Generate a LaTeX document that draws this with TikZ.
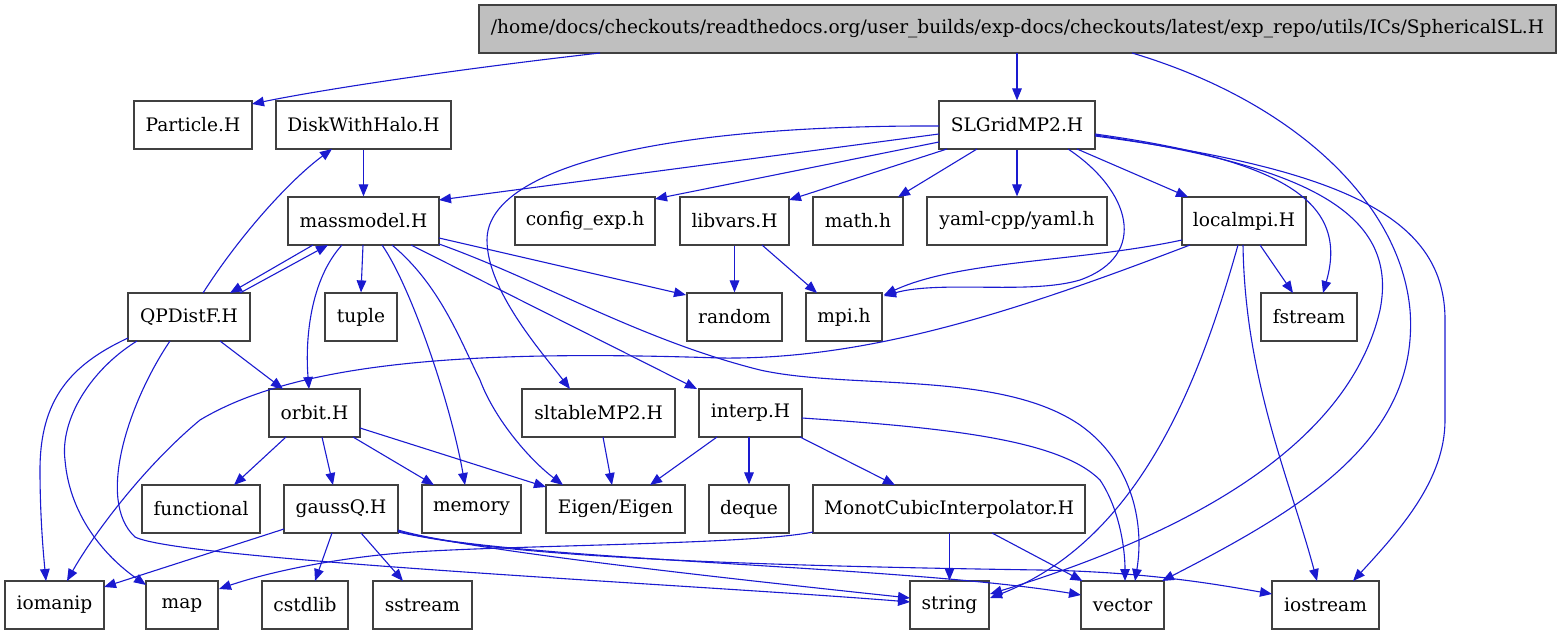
\documentclass[tikz,border=0pt]{standalone}
\usepackage{fontspec}
\setmainfont{DejaVu Serif}
\usetikzlibrary{arrows.meta,calc}
\definecolor{edgeblue}{RGB}{26,26,208}
\definecolor{rootfill}{RGB}{191,191,191}
\begin{document}
\begin{tikzpicture}[x=0.5pt,y=-0.5pt,
  box/.style={draw=black!75, line width=0.6pt, rectangle, inner sep=0pt,
    minimum height=24pt, minimum width=#1*0.5pt, font=\fontsize{9.3}{11}\selectfont},
  e/.style={draw=edgeblue, line width=0.55pt, -{Triangle[length=6pt,width=4.8pt]}}]
\useasboundingbox (0,0) rectangle (1561,635);
% nodes
\node[box=1077, fill=rootfill] (root) at (1017.5,29) {/home/docs/checkouts/readthedocs.org/user\_builds/exp-docs/checkouts/latest/exp\_repo/utils/ICs/SphericalSL.H};
\node[box=118] (particle) at (193,125) {Particle.H};
\node[box=175] (disk) at (363.5,125) {DiskWithHalo.H};
\node[box=156] (slg) at (1017,125) {SLGridMP2.H};
\node[box=151] (mass) at (363.5,221) {massmodel.H};
\node[box=140] (config) at (585,221) {config\_exp.h};
\node[box=109] (libvars) at (734.5,221) {libvars.H};
\node[box=90] (mathh) at (858,221) {math.h};
\node[box=180] (yaml) at (1017,221) {yaml-cpp/yaml.h};
\node[box=124] (localmpi) at (1244,221) {localmpi.H};
\node[box=122] (qpd) at (189,317) {QPDistF.H};
\node[box=72] (tuple) at (361,317) {tuple};
\node[box=95] (random) at (734.5,317) {random};
\node[box=76] (mpi) at (844,317) {mpi.h};
\node[box=96] (fstream) at (1309,317) {fstream};
\node[box=91] (orbit) at (314.5,413) {orbit.H};
\node[box=153] (sltable) at (598.5,413) {sltableMP2.H};
\node[box=103] (interp) at (750.5,413) {interp.H};
\node[box=118] (functional) at (201,509) {functional};
\node[box=114] (gaussq) at (341,509) {gaussQ.H};
\node[box=99] (memory) at (471.5,509) {memory};
\node[box=139] (eigen) at (615.5,509) {Eigen/Eigen};
\node[box=80] (deque) at (749,509) {deque};
\node[box=272] (monot) at (949,509) {MonotCubicInterpolator.H};
\node[box=99] (iomanip) at (54.5,605) {iomanip};
\node[box=72] (map) at (182,605) {map};
\node[box=86] (cstdlib) at (305,605) {cstdlib};
\node[box=99] (sstream) at (422.5,605) {sstream};
\node[box=79] (string) at (949.5,605) {string};
\node[box=83] (vector) at (1122.5,605) {vector};
\node[box=107] (iostream) at (1325.5,605) {iostream};
% edges from root
\draw[e] ($(root)+(-417.5,24)$) .. controls (450,70) and (320,90) .. ($(particle)+(59,-21)$);
\draw[e] ($(root)+(-0.5,24)$) -- (slg.north);
\draw[e] ($(root)+(114.5,24)$) .. controls (1290,100) and (1400,200) .. (1410,310)
  .. controls (1420,440) and (1300,510) .. ($(vector)+(39.5,-24)$);
% SLGridMP2
\draw[e] ($(slg)+(-78,9)$) -- ($(mass)+(75.5,-21)$);
\draw[e] ($(slg)+(-78,1)$) .. controls (650,125) and (487,170) .. (487,240)
  .. controls (487,290) and (540,350) .. ($(sltable)+(-28.5,-24)$);
\draw[e] ($(slg)+(-78,17)$) -- ($(config)+(70,-22)$);
\draw[e] ($(slg)+(-70,24)$) -- ($(libvars)+(54.5,-21)$);
\draw[e] ($(slg)+(-40,24)$) -- ($(mathh)+(40,-24)$);
\draw[e] (slg.south) -- (yaml.north);
\draw[e] ($(slg)+(60,24)$) -- ($(localmpi)+(-56,-24)$);
\draw[e] ($(slg)+(51,24)$) .. controls (1130,190) and (1150,255) .. (1080,280)
  .. controls (1030,295) and (940,280) .. ($(mpi)+(40,-21)$);
\draw[e] ($(slg)+(78,9)$) .. controls (1280,160) and (1350,200) .. ($(fstream)+(14,-24)$);
\draw[e] ($(slg)+(78,10)$) .. controls (1300,165) and (1400,210) .. (1380,310)
  .. controls (1350,440) and (1200,530) .. ($(string)+(40.5,-11)$);
\draw[e] ($(slg)+(78,11)$) .. controls (1350,170) and (1445,220) .. (1445,320)
  -- (1445,420) .. controls (1445,480) and (1400,530) .. ($(iostream)+(27.5,-24)$);
% localmpi
\draw[e] ($(localmpi)+(-62,19)$) .. controls (1080,262) and (960,260) .. ($(mpi)+(40,-22)$);
\draw[e] ($(localmpi)+(16,24)$) -- ($(fstream)+(-16,-24)$);
\draw[e] ($(localmpi)+(-1,24)$) .. controls (1245,380) and (1290,480) .. ($(iostream)+(-8.5,-24)$);
\draw[e] ($(localmpi)+(-6,24)$) .. controls (1200,380) and (1140,540) .. ($(string)+(40.5,-7)$);
\draw[e] ($(localmpi)+(-54,24)$) .. controls (1020,310) and (870,360) .. (720,358)
  .. controls (480,350) and (300,360) .. (200,420)
  .. controls (140,470) and (90,540) .. ($(iomanip)+(12.5,-24)$);
% libvars
\draw[e] (libvars.south) -- (random.north);
\draw[e] ($(libvars)+(27.5,24)$) -- ($(mpi)+(-27,-24)$);
% DiskWithHalo
\draw[e] (disk.south) -- (mass.north);
% massmodel
\draw[e] ($(mass)+(-50.5,24)$) -- ($(qpd)+(41,-24)$);
\draw[e] ($(mass)+(-0.5,24)$) -- (tuple.north);
\draw[e] ($(mass)+(-21.5,24)$) .. controls (310,280) and (305,340) .. ($(orbit)+(-5.5,-24)$);
\draw[e] ($(mass)+(18.5,24)$) .. controls (410,285) and (450,400) .. ($(memory)+(-6.5,-24)$);
\draw[e] ($(mass)+(28.5,24)$) .. controls (440,285) and (460,340) .. (480,380)
  .. controls (495,420) and (530,460) .. ($(eigen)+(-52.5,-24)$);
\draw[e] ($(mass)+(47.5,24)$) -- ($(interp)+(-53.5,-24)$);
\draw[e] ($(mass)+(75.5,17)$) -- ($(random)+(-48.5,-22)$);
\draw[e] ($(mass)+(75.5,23)$) .. controls (540,280) and (640,340) .. (760,370)
  .. controls (850,390) and (1000,370) .. (1080,425)
  .. controls (1130,460) and (1145,520) .. ($(vector)+(12.5,-24)$);
% QPDistF
\draw[e] ($(qpd)+(51,-24)$) -- ($(mass)+(-35.5,24)$);
\draw[e] ($(qpd)+(14,-24)$) .. controls (240,235) and (290,180) .. ($(disk)+(-31.5,24)$);
\draw[e] ($(qpd)+(31,24)$) -- ($(orbit)+(-31.5,-24)$);
\draw[e] ($(qpd)+(-61,21)$) .. controls (70,365) and (40,400) .. (40,470)
  .. controls (40,520) and (44,560) .. ($(iomanip)+(-8.5,-24)$);
\draw[e] ($(qpd)+(-52,24)$) .. controls (90,370) and (60,420) .. (65,460)
  .. controls (70,520) and (110,560) .. ($(map)+(-36,-20)$);
\draw[e] ($(qpd)+(-19,24)$) .. controls (130,400) and (95,500) .. (135,537)
  .. controls (180,560) and (700,585) .. ($(string)+(-39.5,-3)$);
% orbit
\draw[e] ($(orbit)+(-28.5,24)$) -- ($(functional)+(33,-24)$);
\draw[e] ($(orbit)+(7.5,24)$) -- ($(gaussq)+(-8,-24)$);
\draw[e] ($(orbit)+(38.5,24)$) -- ($(memory)+(-37.5,-24)$);
\draw[e] ($(orbit)+(45.5,15)$) -- ($(eigen)+(-69.5,-22)$);
% gaussQ
\draw[e] ($(gaussq)+(-57,20)$) -- ($(iomanip)+(49.5,-18)$);
\draw[e] ($(gaussq)+(-9,24)$) -- ($(cstdlib)+(10,-24)$);
\draw[e] ($(gaussq)+(20,24)$) -- ($(sstream)+(-19.5,-24)$);
\draw[e] ($(gaussq)+(57,21)$) .. controls (450,545) and (600,565) .. ($(string)+(-39.5,-7)$);
\draw[e] ($(gaussq)+(57,22)$) .. controls (500,560) and (900,565) .. ($(vector)+(-41.5,-10)$);
\draw[e] ($(gaussq)+(57,23)$) .. controls (500,555) and (700,565) .. (1040,570)
  .. controls (1150,572) and (1220,585) .. ($(iostream)+(-53.5,-11)$);
% MonotCubicInterpolator
\draw[e] ($(monot)+(-136,23)$) .. controls (750,545) and (500,545) .. (400,553)
  .. controls (320,560) and (260,575) .. ($(map)+(37,-16)$);
\draw[e] ($(monot)+(0.5,24)$) -- (string.north);
\draw[e] ($(monot)+(43,24)$) -- ($(vector)+(-40,-24)$);
% interp
\draw[e] ($(interp)+(-33.5,24)$) -- ($(eigen)+(34.5,-24)$);
\draw[e] ($(interp)+(-1.5,24)$) -- (deque.north);
\draw[e] ($(interp)+(49.5,24)$) -- ($(monot)+(-54,-24)$);
\draw[e] ($(interp)+(51.5,5)$) .. controls (950,428) and (1060,440) .. (1100,480)
  .. controls (1120,510) and (1125,550) .. ($(vector)+(2.5,-24)$);
% sltableMP2
\draw[e] ($(sltable)+(4.5,24)$) -- ($(eigen)+(-3.5,-24)$);
\end{tikzpicture}
\end{document}
